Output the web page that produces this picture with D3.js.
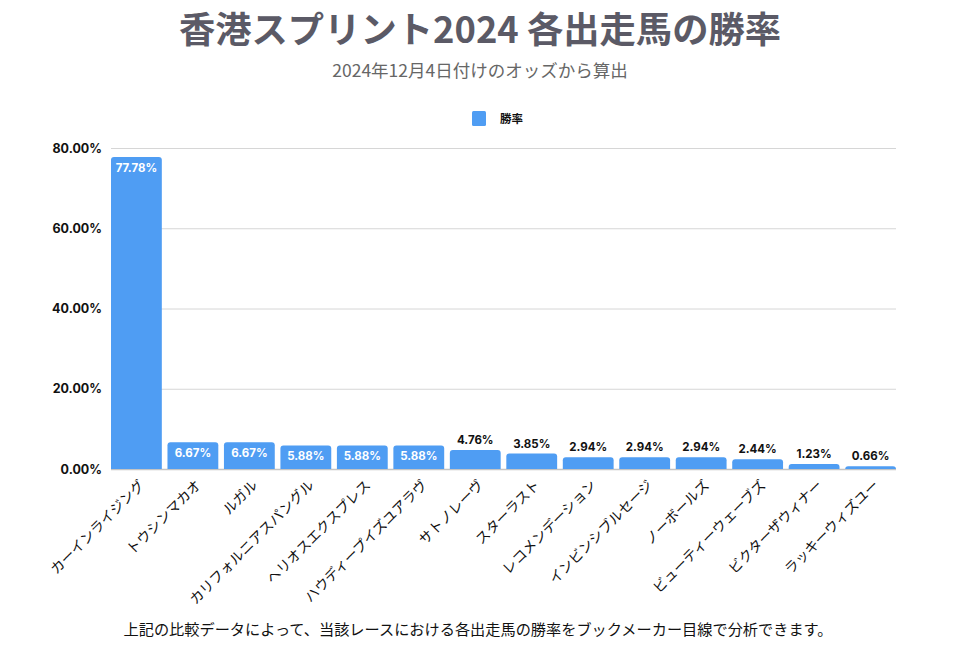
<!DOCTYPE html>
<html><head><meta charset="utf-8">
<script src="https://cdn.jsdelivr.net/npm/d3@7"></script>
<style>
body{margin:0;background:#fff;}
svg{display:block;}
</style></head>
<body>
<svg id="chart" width="953" height="650"></svg>
<script>
const horses = ["カーインライジング","トウシンマカオ","ルガル","カリフォルニアスパングル","ヘリオスエクスプレス","ハウディープイズユアラヴ","サトノレーヴ","スターラスト","レコメンデーション","インビンシブルセージ","ノーボールズ","ビューティーウェーブズ","ビクターザウィナー","ラッキーウィズユー"];
const winRates = [77.78,6.67,6.67,5.88,5.88,5.88,4.76,3.85,2.94,2.94,2.94,2.44,1.23,0.66];
const yTicks = [0,20,40,60,80];
const seriesName = "勝率";
const titleText = "香港スプリント2024 各出走馬の勝率";
const subtitleText = "2024年12月4日付けのオッズから算出";
const noteText = "上記の比較データによって、当該レースにおける各出走馬の勝率をブックメーカー目線で分析できます。";

const svg = d3.select("#chart");
const jp = "'Noto Sans CJK JP','Noto Sans',sans-serif";
const num = "Inter,'Noto Sans',sans-serif";
const barColor = "#4f9df3";
const pLeft = 111, pRight = 896, pTop = 148, pBottom = 469;

const x = d3.scaleBand().domain(horses).range([pLeft,pRight]).paddingInner(0.1).paddingOuter(0);
const y = d3.scaleLinear().domain([0,80]).range([pBottom,pTop]);

svg.append("text").attr("x",480).attr("y",43).attr("text-anchor","middle")
  .attr("font-family",jp).attr("font-weight",700).attr("font-size",36.3).attr("fill","#5b5a66").text(titleText);
svg.append("text").attr("x",480).attr("y",77).attr("text-anchor","middle")
  .attr("font-family",jp).attr("font-size",17.5).attr("fill","#666").text(subtitleText);

// legend
svg.append("rect").attr("x",472).attr("y",111).attr("width",14).attr("height",15).attr("rx",1.5).attr("fill",barColor);
svg.append("text").attr("x",500).attr("y",123).attr("font-family",jp).attr("font-weight",700).attr("font-size",11.5).attr("fill","#111").text(seriesName);

// grid
const yAxis = d3.axisLeft(y).tickValues(yTicks).tickFormat(d=>d.toFixed(2)+"%").tickSize(-(pRight-pLeft)).tickPadding(9);
const gy = svg.append("g").attr("transform",`translate(${pLeft},0)`).call(yAxis);
gy.select(".domain").remove();
gy.selectAll(".tick line").attr("stroke","#d6d6d6").attr("stroke-width",1).attr("x1",0);
gy.selectAll(".tick text").attr("font-family",num).attr("font-weight",700).attr("font-size",12.5).attr("fill","#111");
gy.selectAll(".tick").filter(d=>d===0).select("line").attr("stroke","#c4c4c4").attr("stroke-width",1.5);

// bars with rounded top
const r = 3;
svg.append("g").selectAll("path").data(horses).join("path")
  .attr("fill",barColor)
  .attr("d",(h,i)=>{
    const x0 = x(h), w = x.bandwidth(), y0 = y(winRates[i]), y1 = y(0);
    return `M${x0},${y1}V${y0+r}Q${x0},${y0} ${x0+r},${y0}H${x0+w-r}Q${x0+w},${y0} ${x0+w},${y0+r}V${y1}Z`;
  });

// value labels
svg.append("g").selectAll("text").data(horses).join("text")
  .attr("x",h=>x(h)+x.bandwidth()/2)
  .attr("y",(h,i)=>{const h0=y(0)-y(winRates[i]); return h0>21 ? y(winRates[i])+15 : y(winRates[i])-6;})
  .attr("text-anchor","middle").attr("font-family",num).attr("font-weight",700).attr("font-size",11.5)
  .attr("fill",(h,i)=> (y(0)-y(winRates[i]))>21 ? "#fff" : "#111")
  .text((h,i)=>winRates[i].toFixed(2)+"%");

// x labels
svg.append("g").selectAll("text").data(horses).join("text")
  .attr("transform",h=>`translate(${x(h)+x.bandwidth()/2+9},${pBottom+17}) rotate(-45)`)
  .attr("text-anchor","end").attr("font-family",jp).attr("font-size",14).attr("fill","#111")
  .text(h=>h);

svg.append("text").attr("x",478).attr("y",635).attr("text-anchor","middle")
  .attr("font-family",jp).attr("font-size",15.2).attr("fill","#111").text(noteText);
</script>
</body></html>
